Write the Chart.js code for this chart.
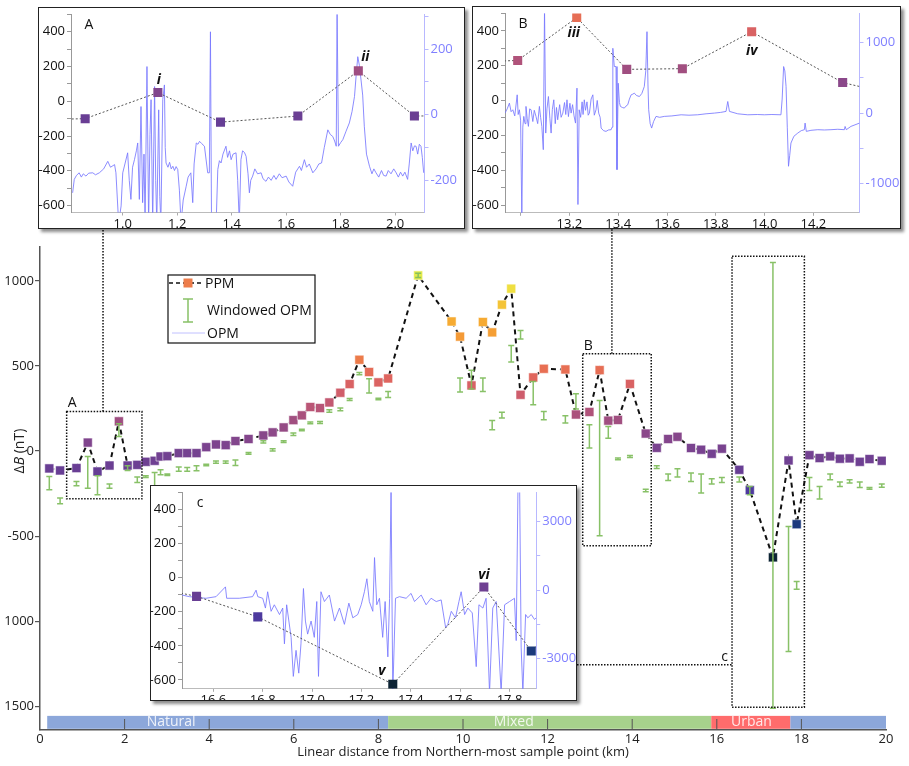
<!DOCTYPE html>
<html>
<head>
<meta charset="utf-8">
<script src="https://cdn.jsdelivr.net/npm/chart.js@4.4.1/dist/chart.umd.min.js"></script>
<style>
  html, body { margin: 0; padding: 0; background: #fff; }
  #wrap { position: relative; width: 909px; height: 766px; overflow: hidden; }
  #main { position: absolute; left: 0; top: 0; }
  .inset { position: absolute; background: #fff; border: 1.5px solid #222; box-shadow: 3px 3px 3px rgba(0,0,0,0.45); overflow: hidden; }
  .inset canvas { position: absolute; left: 0; top: 0; }
</style>
</head>
<body>
<div id="wrap">
  <canvas id="main" width="909" height="766"></canvas>
  <div class="inset" style="left:38px;top:7px;width:425px;height:220px;"><canvas id="insetA" width="425" height="220"></canvas></div>
  <div class="inset" style="left:472px;top:6px;width:427px;height:221px;"><canvas id="insetB" width="427" height="221"></canvas></div>
  <div class="inset" style="left:150px;top:485px;width:425px;height:214px;"><canvas id="insetC" width="425" height="214"></canvas></div>
</div>
<script>
// PPM survey points (km, nT)
const ppmX = [0.22, 0.475, 0.862, 1.129, 1.359, 1.643, 1.865, 2.071, 2.30, 2.50,
  2.71, 2.85, 3.01, 3.28, 3.48, 3.70, 3.93, 4.16, 4.39, 4.62,
  4.93, 5.28, 5.50, 5.76, 5.99, 6.19, 6.39, 6.62, 6.84, 7.10,
  7.32, 7.55, 7.78, 8.00, 8.23, 8.94, 9.73, 9.93, 10.20, 10.47,
  10.69, 10.92, 11.14, 11.36, 11.66, 11.91, 12.42, 12.67, 12.988, 13.230,
  13.435, 13.663, 13.947, 14.320, 14.58, 14.85, 15.07, 15.39, 15.63, 15.88,
  16.12, 16.532, 16.78, 17.327, 17.696, 17.888, 18.19, 18.43, 18.68, 18.91,
  19.14, 19.38, 19.61, 19.90];
const ppmY = [-102, -114, -100, 50, -120, -85, 175, -85, -81, -63,
  -57, -32, -30, -12, -12, -12, 23, 39, 35, 59,
  71, 92, 110, 139, 182, 210, 259, 253, 286, 343,
  394, 537, 465, 404, 427, 1033, 762, 673, 386, 759,
  698, 861, 955, 331, 433, 484, 480, 215, 230, 476,
  179, 183, 395, 103, 19, 71, 84, 18, 8, -16,
  14, -110, -230, -625, -55, -430, -24, -41, -31, -45,
  -43, -63, -47, -57];

// windowed OPM range at each PPM point (null = none)
const winLow = [-228, -310, -204, -218, -257, -218, 86, -114, -185, -155,
  -204, -139, -143, -118, -118, -116, -86, -71, -71, -85,
  -18, 47, 0, 51, 92, 119, 161, 162, 229, 237,
  298, 449, 341, 302, 315, 1020, null, 347, 365, 351,
  125, 194, 524, 659, 272, 184, 165, 247, 18, -498,
  76, -51, -38, -239, -102, -173, -153, -179, -247, -194,
  -185, -182, -257, -1512, -1179, -812, -232, -282, -169, -208,
  -188, -214, -224, -212];
const winHigh = [-149, -276, -179, -32, -145, -194, 160, -86, -153, -145,
  -126, -110, -135, -94, -96, -86, -77, -59, -59, -53,
  -8, 61, 14, 61, 106, 129, 171, 174, 243, 253,
  309, 462, 425, 310, 351, 1045, null, 429, 475, 429,
  180, 229, 621, 709, 409, 233, 208, 337, 155, 298,
  145, -41, -26, -224, -86, -135, -104, -129, -135, -163,
  -155, -153, -208, 1109, -444, -767, -155, -208, -135, -182,
  -169, -182, -214, -194];

// continuous OPM traces in the three close-ups
const traceAX = [0.816, 0.822, 0.83, 0.84, 0.848, 0.855, 0.865, 0.875, 0.89, 0.90,
  0.914, 0.93, 0.945, 0.955, 0.97, 0.975, 0.985, 0.994, 1.0, 1.008,
  1.018, 1.024, 1.03, 1.036, 1.043, 1.05, 1.055, 1.061, 1.067, 1.073,
  1.078, 1.082, 1.089, 1.095, 1.10, 1.104, 1.11, 1.117, 1.121, 1.125,
  1.132, 1.136, 1.14, 1.147, 1.153, 1.156, 1.159, 1.166, 1.172, 1.178,
  1.184, 1.19, 1.196, 1.202, 1.208, 1.214, 1.222, 1.233, 1.24, 1.25,
  1.257, 1.262, 1.27, 1.276, 1.282, 1.29, 1.30, 1.312, 1.318, 1.322,
  1.326, 1.343, 1.349, 1.355, 1.361, 1.368, 1.379, 1.385, 1.392, 1.398,
  1.405, 1.416, 1.422, 1.428, 1.434, 1.44, 1.447, 1.453, 1.46, 1.465,
  1.47, 1.477, 1.485, 1.495, 1.508, 1.515, 1.526, 1.535, 1.545, 1.555,
  1.563, 1.575, 1.585, 1.60, 1.61, 1.624, 1.635, 1.649, 1.656, 1.667,
  1.675, 1.685, 1.698, 1.71, 1.72, 1.73, 1.74, 1.753, 1.762, 1.771,
  1.778, 1.784, 1.787, 1.792, 1.80, 1.808, 1.82, 1.832, 1.842, 1.851,
  1.857, 1.863, 1.869, 1.875, 1.881, 1.887, 1.895, 1.906, 1.915, 1.922,
  1.93, 1.94, 1.95, 1.958, 1.967, 1.975, 1.985, 1.995, 2.004, 2.012,
  2.02, 2.028, 2.036, 2.046, 2.052, 2.059, 2.065, 2.071, 2.077, 2.083,
  2.089, 2.095, 2.10, 2.105];
const traceAY = [-238, -197, -185, -177, -190, -180, -187, -178, -177, -183,
  -177, -165, -142, -160, -152, -177, -330, -278, -177, -150,
  -116, -200, -258, -160, -137, -110, -86, -258, 25, -268,
  -120, -330, 147, -330, -60, 46, -330, 86, -200, -330,
  15, -250, -330, 46, 91, -100, -147, -160, -145, -165,
  -157, -170, -158, -167, -230, -330, -260, -218, -190, -177,
  -268, -150, -86, -90, -81, -88, -96, -177, -177, 253,
  -330, -330, -167, -140, -147, -120, -96, -130, -110, -137,
  -120, -116, -200, -330, -137, -110, -115, -127, -180, -238,
  -200, -187, -165, -180, -177, -195, -203, -190, -200, -185,
  -197, -180, -192, -187, -205, -218, -175, -157, -170, -137,
  -160, -150, -177, -165, -150, -147, -100, -46, -60, -66,
  -80, -96, 330, -96, -85, -76, -50, -25, 10, 56,
  120, 177, 150, 106, 60, -35, -120, -157, -180, -165,
  -177, -190, -170, -185, -187, -170, -180, -165, -177, -190,
  -175, -187, -175, -197, -150, -86, -110, -95, -96, -120,
  -90, -96, -130, -177];

const traceBX = [12.936, 12.945, 12.954, 12.961, 12.968, 12.976, 12.986, 12.99, 12.995, 13.0,
  13.005, 13.009, 13.013, 13.018, 13.022, 13.027, 13.032, 13.037, 13.043, 13.05,
  13.056, 13.063, 13.07, 13.077, 13.082, 13.087, 13.093, 13.098, 13.103, 13.108,
  13.114, 13.12, 13.125, 13.13, 13.136, 13.142, 13.147, 13.152, 13.16, 13.166,
  13.173, 13.18, 13.185, 13.19, 13.196, 13.202, 13.207, 13.213, 13.219, 13.225,
  13.231, 13.235, 13.24, 13.246, 13.252, 13.256, 13.261, 13.266, 13.272, 13.277,
  13.282, 13.289, 13.296, 13.302, 13.309, 13.314, 13.32, 13.326, 13.33, 13.34,
  13.35, 13.36, 13.371, 13.375, 13.378, 13.384, 13.391, 13.395, 13.4, 13.405,
  13.409, 13.417, 13.425, 13.432, 13.439, 13.446, 13.453, 13.46, 13.466, 13.475,
  13.487, 13.497, 13.507, 13.513, 13.518, 13.522, 13.525, 13.531, 13.537, 13.545,
  13.555, 13.57, 13.589, 13.62, 13.658, 13.69, 13.726, 13.76, 13.794, 13.82,
  13.842, 13.849, 13.856, 13.89, 13.931, 13.97, 13.999, 14.03, 14.067, 14.072,
  14.078, 14.083, 14.088, 14.093, 14.098, 14.103, 14.108, 14.12, 14.136, 14.15,
  14.163, 14.166, 14.171, 14.19, 14.218, 14.245, 14.272, 14.3, 14.327, 14.33,
  14.335, 14.354, 14.389];
const traceBY = [0, 60, 142, 20, 47, -40, 260, -20, 47, -100,
  -1500, -200, -47, -150, 95, -80, -189, 60, 47, -120,
  40, -47, -150, 95, -60, -189, -520, 1500, -284, 60,
  236, -80, -284, 50, 189, -150, 80, -95, 120, -60,
  0, 150, -20, 189, -50, 140, 0, 120, -40, -142,
  355, -1300, 47, -60, 160, -20, 189, 40, 160, -30,
  0, 200, 260, -30, 47, 180, 0, -60, -213, -250,
  -260, -240, -236, -200, 922, 662, 662, -804, 425, 150,
  95, 80, 71, 100, 118, 200, 260, 270, 284, 250,
  236, 280, 378, 600, 1158, 400, 47, -150, -213, -120,
  -47, -60, -47, -40, -24, -30, -24, -10, 0, 10,
  24, 165, 24, -10, -24, -20, -24, -20, -24, 200,
  662, 600, 378, -200, -756, -600, -426, -330, -284, -250,
  -236, -142, -260, -245, -236, -240, -236, -230, -236, -190,
  -236, -189, -142];

const traceCX = [16.473, 16.503, 16.57, 16.611, 16.649, 16.654, 16.705, 16.759, 16.773, 16.78,
  16.8, 16.811, 16.82, 16.834, 16.847, 16.868, 16.881, 16.888, 16.897, 16.915,
  16.924, 16.935, 16.946, 16.955, 16.965, 16.973, 16.982, 16.996, 17.009, 17.019,
  17.026, 17.036, 17.05, 17.07, 17.091, 17.111, 17.131, 17.149, 17.165, 17.185,
  17.199, 17.212, 17.222, 17.232, 17.246, 17.253, 17.262, 17.273, 17.286, 17.296,
  17.307, 17.314, 17.32, 17.327, 17.338, 17.354, 17.381, 17.401, 17.415, 17.442,
  17.462, 17.482, 17.503, 17.523, 17.541, 17.55, 17.564, 17.581, 17.595, 17.604,
  17.618, 17.631, 17.649, 17.665, 17.676, 17.692, 17.705, 17.719, 17.732, 17.746,
  17.766, 17.78, 17.8, 17.82, 17.827, 17.834, 17.841, 17.847, 17.854, 17.865,
  17.874, 17.888, 17.901, 17.908];
const traceCY = [-214, -286, -357, -286, 143, -357, -357, -286, 0, -286,
  -357, -786, -71, -929, -643, -1071, -786, -2357, -643, -2071,
  -3786, -2643, -3643, -2357, 71, -1357, -1929, -1357, -2071, -500,
  -3786, -71, -500, -214, -1357, -786, -1500, -571, -1214, -1071,
  -643, -71, 500, -500, -929, 1429, -643, -357, -2071, -500,
  -2929, -357, 4400, -4500, -357, -286, -357, -143, -500, -214,
  -643, -357, -500, -429, -1643, -1500, -929, -1214, -500, -71,
  -1071, -786, -1000, -3357, -643, -786, -357, -4500, -786, -500,
  -4500, -643, -500, -357, -2214, 4400, 4400, -2500, -4500, -1071,
  -1214, -1071, -1286, -1214];

// main y ticks as printed on the original
const yTickVals = [-1500, -1000, -500, 0, 500, 1000];
const yTickText = ['1500', '1000', '-500', '0', '500', '1000'];

// land-use strip
const regions = [
  { label: 'Natural', from: 0.17, to: 8.23 },
  { label: 'Mixed', from: 8.23, to: 15.87 },
  { label: 'Urban', from: 15.87, to: 17.74 },
  { label: '', from: 17.74, to: 20 }
];

// tagged points (index into ppm arrays)
const tagIdx = [3, 6, 49, 52, 63, 64];
const tagText = ['i', 'ii', 'iii', 'iv', 'v', 'vi'];

const FONT = '"Open Sans", "DejaVu Sans", sans-serif';
Chart.defaults.font.family = FONT;

const regionColor = { Natural: 'rgba(130,160,215,0.92)', Mixed: 'rgba(160,205,130,0.92)', Urban: 'rgba(255,95,95,0.92)', '': 'rgba(130,160,215,0.92)' };
const regionLabelAt = { Natural: 3.1, Mixed: 11.2, Urban: 16.82 };
const tagOffset = { i: [1, -13], ii: [7, -14], iii: [-3, 15], iv: [0, 19], v: [-11, -13], vi: [0, -12] };

const cmap = [
  [-630, [12, 34, 50]], [-430, [28, 58, 125]], [-230, [78, 58, 158]], [-110, [104, 62, 148]],
  [0, [118, 66, 144]], [100, [138, 72, 138]], [200, [166, 80, 126]], [300, [200, 90, 112]],
  [420, [222, 100, 96]], [500, [234, 114, 80]], [650, [244, 150, 56]], [800, [247, 178, 48]],
  [950, [240, 222, 64]], [1040, [226, 236, 76]]
];
function ppmColor(v) {
  if (v <= cmap[0][0]) return 'rgb(' + cmap[0][1].join(',') + ')';
  for (let i = 1; i < cmap.length; i++) {
    if (v <= cmap[i][0]) {
      const t = (v - cmap[i - 1][0]) / (cmap[i][0] - cmap[i - 1][0]);
      const c = cmap[i - 1][1].map((a, k) => Math.round(a + (cmap[i][1][k] - a) * t));
      return 'rgb(' + c.join(',') + ')';
    }
  }
  return 'rgb(' + cmap[cmap.length - 1][1].join(',') + ')';
}
const ppmColors = ppmY.map(ppmColor);
const ppmPoints = () => ppmX.map((x, i) => ({ x, y: ppmY[i] }));

// tick lists on fixed integer steps
function stepTicks(step) {
  return s => {
    const out = [];
    for (let k = Math.ceil(s.min / step); k * step <= s.max; k++) out.push({ value: k * step });
    s.ticks = out;
  };
}
function stepLabel(every) {
  return v => {
    const r = Math.round(v);
    return Math.abs(r % every) < 1e-6 ? String(r === 0 ? 0 : r) : '';
  };
}

// zoom boxes on the main axes
const zoomBoxes = [
  { name: 'A', x0: 0.63, x1: 2.41, y0: -281, y1: 233, linkX: 1.49 },
  { name: 'B', x0: 12.83, x1: 14.45, y0: -557, y1: 573, linkX: 13.52 },
  { name: 'c', x0: 16.36, x1: 18.07, y0: -1506, y1: 1145, linkY: -1257 }
];

function drawErrorBars(chart) {
  const { ctx, scales: { x, y } } = chart;
  ctx.save();
  ctx.strokeStyle = 'rgba(130,190,95,0.95)';
  ctx.lineWidth = 1.5;
  ppmX.forEach((xv, i) => {
    if (winLow[i] === null) return;
    const px = x.getPixelForValue(xv);
    const p1 = y.getPixelForValue(winLow[i]);
    const p2 = y.getPixelForValue(winHigh[i]);
    ctx.beginPath();
    ctx.moveTo(px, p1); ctx.lineTo(px, p2);
    ctx.moveTo(px - 3, p1); ctx.lineTo(px + 3, p1);
    ctx.moveTo(px - 3, p2); ctx.lineTo(px + 3, p2);
    ctx.stroke();
  });
  ctx.restore();
}

const mainDecor = {
  id: 'mainDecor',
  beforeDatasetsDraw(chart) {
    const { ctx, chartArea: a, scales: { x, y } } = chart;
    const top = y.getPixelForValue(-1557), bot = y.getPixelForValue(-1633);
    ctx.save();
    regions.forEach(r => {
      const x0 = x.getPixelForValue(r.from), x1 = x.getPixelForValue(r.to);
      ctx.fillStyle = regionColor[r.label];
      ctx.fillRect(x0, top, x1 - x0, bot - top);
    });
    ctx.fillStyle = 'rgba(255,255,255,0.85)';
    ctx.font = '14px ' + FONT;
    ctx.textAlign = 'center';
    ctx.textBaseline = 'middle';
    regions.forEach(r => {
      if (r.label) ctx.fillText(r.label, x.getPixelForValue(regionLabelAt[r.label]), (top + bot) / 2);
    });
    ctx.strokeStyle = '#555';
    ctx.lineWidth = 1;
    x.ticks.forEach(t => {
      if (t.value <= x.min || t.value >= x.max) return;
      const px = x.getPixelForValue(t.value);
      ctx.beginPath();
      ctx.moveTo(px, a.bottom);
      ctx.lineTo(px, a.bottom - 11);
      ctx.stroke();
    });
    ctx.restore();
  },
  afterDatasetsDraw(chart) {
    const { ctx, scales: { x, y } } = chart;
    drawErrorBars(chart);

    // dotted zoom boxes and their links to the insets
    ctx.save();
    ctx.strokeStyle = '#111';
    ctx.lineWidth = 1.5;
    ctx.setLineDash([1.5, 1.5]);
    ctx.font = '14px ' + FONT;
    ctx.fillStyle = '#111';
    zoomBoxes.forEach(b => {
      const l = x.getPixelForValue(b.x0), r = x.getPixelForValue(b.x1);
      const t = y.getPixelForValue(b.y1), bt = y.getPixelForValue(b.y0);
      ctx.strokeRect(l, t, r - l, bt - t);
      ctx.beginPath();
      if (b.linkX !== undefined) {
        const lx = x.getPixelForValue(b.linkX);
        ctx.moveTo(lx, t); ctx.lineTo(lx, 229);
        ctx.stroke();
        ctx.textAlign = 'left'; ctx.textBaseline = 'bottom';
        ctx.fillText(b.name, l + 1, t - 1);
      } else {
        const ly = y.getPixelForValue(b.linkY);
        ctx.moveTo(577, ly); ctx.lineTo(l, ly);
        ctx.stroke();
        ctx.textAlign = 'right'; ctx.textBaseline = 'bottom';
        ctx.fillText(b.name, l - 4, ly - 1);
      }
    });
    ctx.restore();

    // legend
    ctx.save();
    ctx.strokeStyle = '#111';
    ctx.lineWidth = 1.2;
    ctx.strokeRect(168, 275, 147, 68);
    ctx.setLineDash([4, 3]);
    ctx.lineWidth = 1.5;
    ctx.beginPath(); ctx.moveTo(169, 283); ctx.lineTo(204, 283); ctx.stroke();
    ctx.setLineDash([]);
    ctx.fillStyle = ppmColor(540);
    ctx.fillRect(183.5, 278.5, 9, 9);
    ctx.strokeStyle = 'rgba(130,190,95,0.95)';
    ctx.beginPath();
    ctx.moveTo(188, 299); ctx.lineTo(188, 322);
    ctx.moveTo(183, 299); ctx.lineTo(193, 299);
    ctx.moveTo(183, 322); ctx.lineTo(193, 322);
    ctx.stroke();
    ctx.strokeStyle = 'rgba(150,150,255,0.6)';
    ctx.lineWidth = 1;
    ctx.beginPath(); ctx.moveTo(172, 333); ctx.lineTo(205, 333); ctx.stroke();
    ctx.fillStyle = '#111';
    ctx.font = '14px ' + FONT;
    ctx.textAlign = 'left';
    ctx.textBaseline = 'middle';
    ctx.fillText('PPM', 205, 284);
    ctx.fillText('Windowed OPM', 207, 311);
    ctx.fillText('OPM', 207, 334);
    ctx.restore();

    // y title: ΔB (nT) with italic B
    ctx.save();
    ctx.translate(20, y.getPixelForValue(0));
    ctx.rotate(-Math.PI / 2);
    ctx.fillStyle = '#222';
    ctx.textBaseline = 'middle';
    ctx.textAlign = 'left';
    const parts = [['Δ', '14px '], ['B', 'italic 14px '], [' (nT)', '14px ']];
    let total = 0;
    parts.forEach(p => { ctx.font = p[1] + FONT; total += ctx.measureText(p[0]).width; });
    let cx = -total / 2;
    parts.forEach(p => { ctx.font = p[1] + FONT; ctx.fillText(p[0], cx, 0); cx += ctx.measureText(p[0]).width; });
    ctx.restore();
  }
};

new Chart(document.getElementById('main'), {
  type: 'line',
  data: {
    datasets: [{
      label: 'PPM',
      data: ppmPoints(),
      borderColor: '#111',
      borderWidth: 2,
      borderDash: [5, 4],
      pointStyle: 'rect',
      pointRadius: 6.4,
      pointBackgroundColor: ppmColors,
      pointBorderColor: 'rgba(255,255,255,0.55)',
      pointBorderWidth: 1,
      tension: 0
    }]
  },
  options: {
    responsive: false,
    animation: false,
    events: [],
    layout: { padding: { left: 0, right: 23, top: 247, bottom: 0 } },
    plugins: { legend: { display: false }, tooltip: { enabled: false } },
    scales: {
      x: {
        type: 'linear', min: 0, max: 20,
        ticks: { stepSize: 2, padding: 1, color: '#222', font: { size: 13 }, maxRotation: 0 },
        grid: { drawOnChartArea: false, drawTicks: false },
        border: { color: '#555', width: 1.5 },
        title: { display: true, text: 'Linear distance from Northern-most sample point (km)', color: '#222', font: { size: 13 }, padding: { top: 0, bottom: 6 } },
        afterFit: s => { s.height = 36; s.paddingLeft = 0; s.paddingRight = 0; }
      },
      y: {
        min: -1640, max: 1200,
        afterBuildTicks: s => { s.ticks = yTickVals.map(v => ({ value: v })); },
        ticks: { padding: 1, color: '#222', font: { size: 13 }, autoSkip: false,
          callback: v => { const k = yTickVals.indexOf(v); return k >= 0 ? yTickText[k] : ''; } },
        grid: { drawOnChartArea: false, tickLength: 5, color: '#555', lineWidth: 1.2 },
        border: { color: '#555', width: 1.5 },
        afterFit: s => { s.width = 40; }
      }
    }
  },
  plugins: [mainDecor]
});

const insetDecor = {
  id: 'insetDecor',
  afterDatasetsDraw(chart, args, opts) {
    const { ctx, chartArea: a, scales: { x, y } } = chart;
    ctx.save();
    ctx.fillStyle = '#111';
    ctx.textAlign = 'center';
    ctx.textBaseline = 'middle';
    ctx.font = '14px ' + FONT;
    ctx.fillText(opts.letter, a.left + 18, a.top + 11);
    ctx.font = 'italic bold 14px ' + FONT;
    tagIdx.forEach((idx, k) => {
      const xv = ppmX[idx];
      if (xv < x.min || xv > x.max) return;
      const off = tagOffset[tagText[k]];
      ctx.fillText(tagText[k], x.getPixelForValue(xv) + off[0], y.getPixelForValue(ppmY[idx]) + off[1]);
    });
    ctx.restore();
  },
  afterDraw(chart, args, opts) {
    // right-hand OPM axis labels, placed from the scale's own ticks
    const { ctx } = chart;
    const s = chart.scales.y2;
    const label = stepLabel(opts.y2lab);
    ctx.save();
    ctx.fillStyle = '#8080ff';
    ctx.font = '13px ' + FONT;
    ctx.textAlign = 'left';
    ctx.textBaseline = 'middle';
    s.ticks.forEach(t => {
      const txt = label(t.value);
      if (txt) ctx.fillText(txt, s.left + 6, s.getPixelForValue(t.value));
    });
    ctx.restore();
  }
};

function insetChart(id, o) {
  return new Chart(document.getElementById(id), {
    type: 'line',
    data: {
      datasets: [
        {
          label: 'PPM', data: ppmPoints(), yAxisID: 'y', clip: 0,
          borderColor: '#555', borderWidth: 1, borderDash: [2, 2],
          pointStyle: 'rect', pointRadius: 6.4, pointBackgroundColor: ppmColors, pointBorderWidth: 0, tension: 0
        },
        {
          label: 'OPM', data: o.tx.map((x, i) => ({ x, y: o.ty[i] })), yAxisID: 'y2', clip: 0,
          borderColor: 'rgba(120,120,255,0.85)', borderWidth: 1, pointRadius: 0, tension: 0
        }
      ]
    },
    options: {
      responsive: false,
      animation: false,
      events: [],
      layout: { padding: { top: o.padTop, left: 0, right: 0, bottom: 0 } },
      plugins: { legend: { display: false }, tooltip: { enabled: false }, insetDecor: { letter: o.letter, y2lab: o.y2lab } },
      scales: {
        x: {
          type: 'linear', min: o.xmin, max: o.xmax,
          ticks: { stepSize: 0.2, includeBounds: false, autoSkip: false, maxRotation: 0, padding: 1, color: '#111', font: { size: 13 },
            callback: v => (v >= o.xlab[0] && v <= o.xlab[1]) ? v.toFixed(1) : '' },
          grid: { drawOnChartArea: false, tickLength: 3, color: '#aaa' },
          border: { color: '#bbb' },
          afterFit: s => { s.height = o.xh; s.paddingLeft = 0; s.paddingRight = 0; }
        },
        y: {
          position: 'left', min: o.ymin, max: o.ymax,
          afterBuildTicks: stepTicks(100),
          ticks: { autoSkip: false, padding: 2, color: '#111', font: { size: 13, lineHeight: 1 }, callback: stepLabel(200) },
          grid: { drawOnChartArea: false, tickLength: 4, color: '#999' },
          border: { color: '#999' },
          afterFit: s => { s.width = o.lw; s.paddingTop = 0; s.paddingBottom = 0; }
        },
        y2: {
          position: 'right', min: o.y2min, max: o.y2max,
          afterBuildTicks: stepTicks(o.y2step),
          ticks: { display: false },
          grid: { drawOnChartArea: false, drawTicks: true, tickLength: 4, color: '#b8b8ff' },
          border: { color: '#b8b8ff' },
          afterFit: s => { s.width = o.rw; s.paddingTop = 0; s.paddingBottom = 0; }
        }
      }
    },
    plugins: [insetDecor]
  });
}

insetChart('insetA', {
  letter: 'A', tx: traceAX, ty: traceAY,
  xmin: 0.81, xmax: 2.108, xlab: [0.9, 2.05],
  ymin: -640, ymax: 500, y2min: -298, y2max: 306, y2step: 100, y2lab: 200,
  lw: 32, rw: 39.5, xh: 15.5, padTop: 5.5
});
insetChart('insetB', {
  letter: 'B', tx: traceBX, ty: traceBY,
  xmin: 12.936, xmax: 14.389, xlab: [13.1, 14.3],
  ymin: -644, ymax: 500, y2min: -1418, y2max: 1418, y2step: 500, y2lab: 1000,
  lw: 32, rw: 40.5, xh: 15.2, padTop: 5.8
});
insetChart('insetC', {
  letter: 'c', tx: traceCX, ty: traceCY,
  xmin: 16.473, xmax: 17.908, xlab: [16.5, 17.85],
  ymin: -652, ymax: 500, y2min: -4330, y2max: 4290, y2step: 1500, y2lab: 3000,
  lw: 31, rw: 39.8, xh: 11.2, padTop: 1.8
});
</script>
</body>
</html>
